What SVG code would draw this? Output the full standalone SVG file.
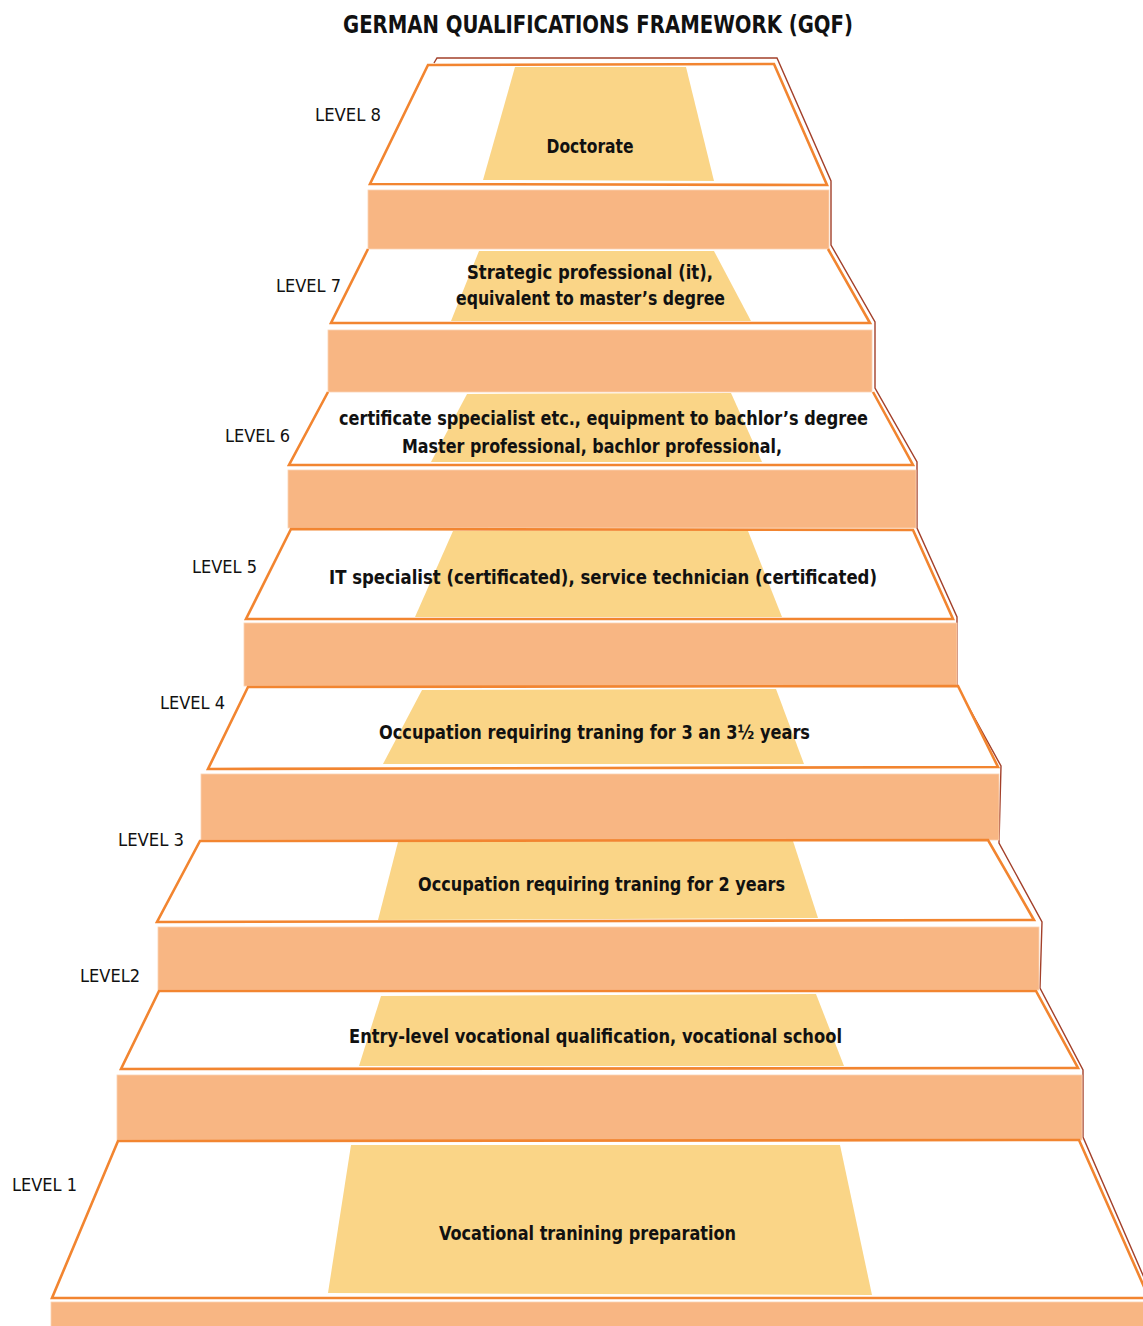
<svg xmlns="http://www.w3.org/2000/svg" width="1143" height="1326" viewBox="0 0 1143 1326">
<style>
.tread{fill:#ffffff;stroke:none}
.edge{fill:none;stroke:#F28530;stroke-width:2.6;stroke-linejoin:miter}
.riser{fill:#F8B683;stroke:#FBD3B3;stroke-width:0.8}
.qual{fill:#FAD587;stroke:none}
.brown{fill:none;stroke:#A3402A;stroke-width:1.4}
.t{font-family:"DejaVu Sans Condensed","Liberation Sans Narrow","Liberation Sans",sans-serif;font-stretch:condensed;font-weight:bold;font-size:19px;fill:#111;text-anchor:middle}
.lv{font-family:"DejaVu Sans Condensed","Liberation Sans Narrow","Liberation Sans",sans-serif;font-stretch:condensed;font-size:18px;fill:#111}
.title{font-family:"DejaVu Sans Condensed","Liberation Sans Narrow","Liberation Sans",sans-serif;font-stretch:condensed;font-weight:bold;font-size:25px;fill:#111;text-anchor:middle}
</style>
<rect width="1143" height="1326" fill="#ffffff"/>
<text class="title" x="598" y="33" textLength="510" lengthAdjust="spacingAndGlyphs">GERMAN QUALIFICATIONS FRAMEWORK (GQF)</text>

<g id="outline">
<path class="brown" d="M434,63 L437,58 L777,58 L831,181 L831,245 L875,322 L875,388 L917,462 L917,528 L957,617 L957,686 L1001,766 L999,843 L1042,922 L1040,988 L1083,1070 L1083,1137 L1152,1296"/>
</g>

<g id="level8">
<polygon class="tread" points="428,65 774,64 827,185 370,184"/>
<polygon class="qual" points="515,67 686,67 714,181 483,180"/>
<polygon class="edge" points="428,65 774,64 827,185 370,184"/>
<rect class="riser" x="368" y="190" width="461" height="59"/>
<text class="t" x="590" y="153" textLength="87" lengthAdjust="spacingAndGlyphs">Doctorate</text>
<text class="lv" x="315" y="121" textLength="66" lengthAdjust="spacingAndGlyphs">LEVEL 8</text>
</g>

<g id="level7">
<polygon class="tread" points="368,250 828,250 870,323 331,323"/>
<polygon class="qual" points="479,251 714,251 751,321 451,321"/>
<polyline class="edge" points="828,249 870,323 331,323 368,249"/>
<rect class="riser" x="328" y="330" width="544" height="62"/>
<text class="t" x="590" y="279" textLength="246" lengthAdjust="spacingAndGlyphs">Strategic professional (it),</text>
<text class="t" x="590.5" y="305" textLength="269" lengthAdjust="spacingAndGlyphs">equivalent to master’s degree</text>
<text class="lv" x="276" y="292" textLength="65" lengthAdjust="spacingAndGlyphs">LEVEL 7</text>
</g>

<g id="level6">
<polygon class="tread" points="328,393 873,393 913,465 289,465"/>
<polygon class="qual" points="467,394 731,393 762,462 431,462"/>
<polyline class="edge" points="873,392 913,465 289,465 328,392"/>
<rect class="riser" x="288" y="470" width="628" height="58"/>
<text class="t" x="603.5" y="425" textLength="529" lengthAdjust="spacingAndGlyphs">certificate sppecialist etc., equipment to bachlor’s degree</text>
<text class="t" x="592" y="453" textLength="380" lengthAdjust="spacingAndGlyphs">Master professional, bachlor professional,</text>
<text class="lv" x="225" y="442" textLength="65" lengthAdjust="spacingAndGlyphs">LEVEL 6</text>
</g>

<g id="level5">
<polygon class="tread" points="291,529 913,530 953,619 246,619"/>
<polygon class="qual" points="453,531 748,531 782,617 415,617"/>
<polygon class="edge" points="291,529 913,530 953,619 246,619"/>
<rect class="riser" x="244" y="623" width="713" height="63"/>
<text class="t" x="603" y="584" textLength="548" lengthAdjust="spacingAndGlyphs">IT specialist (certificated), service technician (certificated)</text>
<text class="lv" x="192" y="573" textLength="65" lengthAdjust="spacingAndGlyphs">LEVEL 5</text>
</g>

<g id="level4">
<polygon class="tread" points="248,687 958,686 998,767 208,769"/>
<polygon class="qual" points="422,690 776,689 804,764 383,764"/>
<polygon class="edge" points="248,687 958,686 998,767 208,769"/>
<rect class="riser" x="201" y="774" width="798" height="66"/>
<text class="t" x="594.5" y="739" textLength="431" lengthAdjust="spacingAndGlyphs">Occupation requiring traning for 3 an 3½ years</text>
<text class="lv" x="160" y="709" textLength="65" lengthAdjust="spacingAndGlyphs">LEVEL 4</text>
</g>

<g id="level3">
<polygon class="tread" points="200,841 988,840 1034,920 157,922"/>
<polygon class="qual" points="398,842 793,841 818,918 378,920"/>
<polygon class="edge" points="200,841 988,840 1034,920 157,922"/>
<rect class="riser" x="158" y="927" width="881" height="63"/>
<text class="t" x="601.5" y="891" textLength="367" lengthAdjust="spacingAndGlyphs">Occupation requiring traning for 2 years</text>
<text class="lv" x="118" y="846" textLength="66" lengthAdjust="spacingAndGlyphs">LEVEL 3</text>
</g>

<g id="level2">
<polygon class="tread" points="159,991 1036,991 1078,1068 121,1069"/>
<polygon class="qual" points="381,996 816,994 844,1066 359,1066"/>
<polygon class="edge" points="159,991 1036,991 1078,1068 121,1069"/>
<rect class="riser" x="117" y="1075" width="965" height="65"/>
<text class="t" x="595.5" y="1043" textLength="493" lengthAdjust="spacingAndGlyphs">Entry-level vocational qualification, vocational school</text>
<text class="lv" x="80" y="982" textLength="60" lengthAdjust="spacingAndGlyphs">LEVEL2</text>
</g>

<g id="level1">
<polygon class="tread" points="118,1141 1079,1140 1149,1298 52,1298"/>
<polygon class="qual" points="351,1145 840,1145 872,1295 328,1293"/>
<polygon class="edge" points="118,1141 1079,1140 1149,1298 52,1298"/>
<rect class="riser" x="51" y="1302" width="1095" height="30"/>
<text class="t" x="587.5" y="1240" textLength="297" lengthAdjust="spacingAndGlyphs">Vocational tranining preparation</text>
<text class="lv" x="12" y="1191" textLength="65" lengthAdjust="spacingAndGlyphs">LEVEL 1</text>
</g>
</svg>
